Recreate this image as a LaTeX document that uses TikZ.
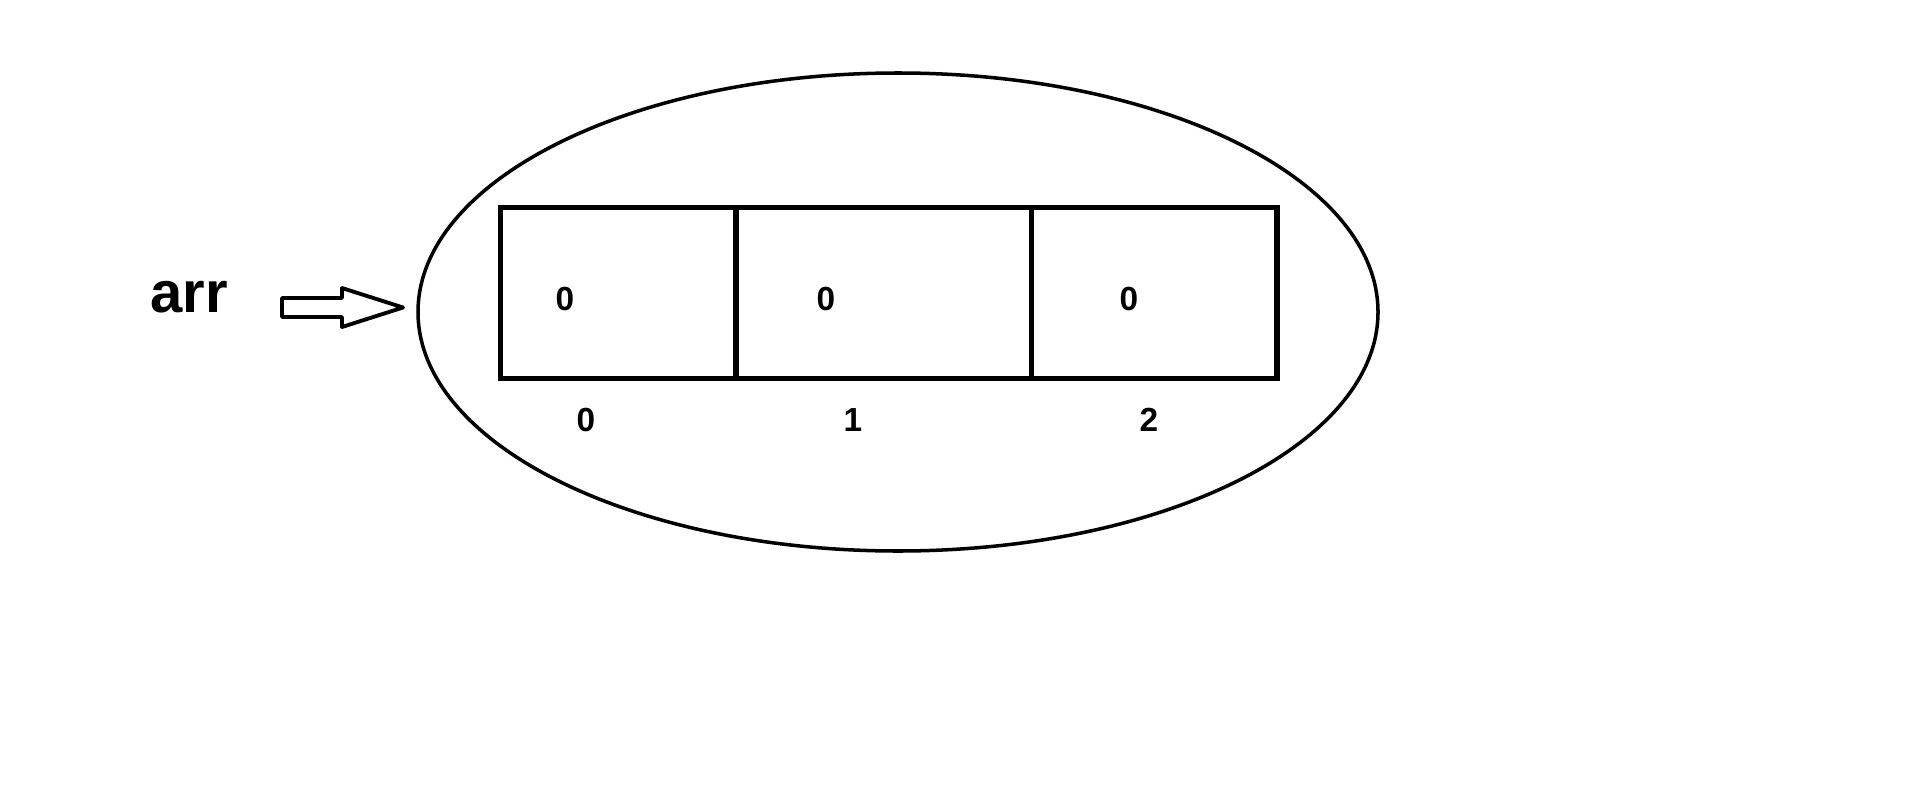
\documentclass[tikz,border=0pt]{standalone}
\usepackage{fontspec}
\setmainfont{Liberation Sans}

\begin{document}
\begin{tikzpicture}[
  cell/.style={draw, line width=1.6pt, minimum height=1.71cm, inner sep=0pt},
  val/.style={font=\bfseries\fontsize{9.5}{11}\selectfont},
  varlabel/.style={font=\bfseries\fontsize{16.5}{20}\selectfont}]
\useasboundingbox (0,0) rectangle (19.14,-7.91);
\draw[line width=1pt] (8.98,-3.12) ellipse [x radius=4.80, y radius=2.39];
\foreach \i/\cx/\w/\vx/\ix in {0/6.1825/2.355/5.65/5.86,
                               1/8.8375/2.955/8.26/8.53,
                               2/11.5425/2.455/11.29/11.49} {
  \node[cell, minimum width=\w cm] (c\i) at (\cx,-2.93) {};
  \node[val] (v\i) at (\vx,-2.99) {0};
  \node[val] (i\i) at (\ix,-4.20) {\i};
}
\node[varlabel] (arr) at (1.89,-2.97) {arr};
\draw[line width=1.1pt, line join=round]
  (2.82,-2.98) -- (3.42,-2.98) -- (3.42,-2.88) -- (4.03,-3.075)
  -- (3.42,-3.27) -- (3.42,-3.17) -- (2.82,-3.17) -- cycle;
\end{tikzpicture}
\end{document}
